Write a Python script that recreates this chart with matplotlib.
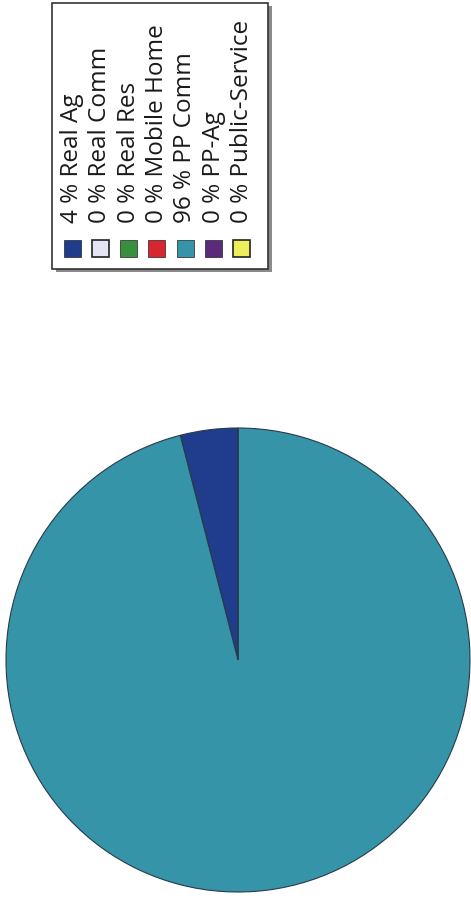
import matplotlib
matplotlib.use("Agg")
import matplotlib.pyplot as plt
from matplotlib.patches import Rectangle

# ---- data ----
categories = ["Real Ag", "Real Comm", "Real Res", "Mobile Home", "PP Comm", "PP-Ag", "Public-Service"]
percents = [4, 0, 0, 0, 96, 0, 0]
colors = ["#1f3d8c", "#e4e4f4", "#3a8f3f", "#d8262e", "#3594a8", "#5b2a78", "#eeee5a"]

W, H = 471, 904
fig = plt.figure(figsize=(W / 100, H / 100), dpi=100)
ax = fig.add_axes([0, 0, 1, 1])

def py(y):
    return H - y

# ---- pie ----
ax.pie(percents, colors=colors, startangle=90, counterclock=True,
       center=(238, py(661)), radius=232,
       wedgeprops=dict(edgecolor="#2a3a4a", linewidth=0.8))

# ---- legend (rotated 90 degrees) ----
box_x0, box_x1 = 52, 268
box_y0, box_y1 = 4, 270
# shadow
ax.add_patch(Rectangle((box_x0 + 4, py(box_y1 + 3)), box_x1 - box_x0, box_y1 - box_y0,
                       facecolor="#8a8a8a", edgecolor="none", zorder=3))
ax.add_patch(Rectangle((box_x0, py(box_y1)), box_x1 - box_x0, box_y1 - box_y0,
                       facecolor="white", edgecolor="#333333", linewidth=1.2, zorder=4))

row0, step = 72, 28.3
sq = 17
for i, (cat, p, c) in enumerate(zip(categories, percents, colors)):
    xc = row0 + step * i
    ax.add_patch(Rectangle((xc - sq / 2, py(258)), sq, sq, facecolor=c,
                           edgecolor="#222222", linewidth=1.2 if c in ("#e4e4f4", "#eeee5a") else 0.5,
                           zorder=5))
    ax.text(xc, py(223), f"{p} % {cat}", rotation=90, rotation_mode="anchor",
            ha="left", va="center", fontsize=17.5, family=["Open Sans", "DejaVu Sans"],
            color="#1a1a1a", zorder=6)

ax.set_xlim(0, W)
ax.set_ylim(0, H)
ax.set_aspect("equal")
ax.axis("off")
fig.savefig("out.png", dpi=100, facecolor="white")
